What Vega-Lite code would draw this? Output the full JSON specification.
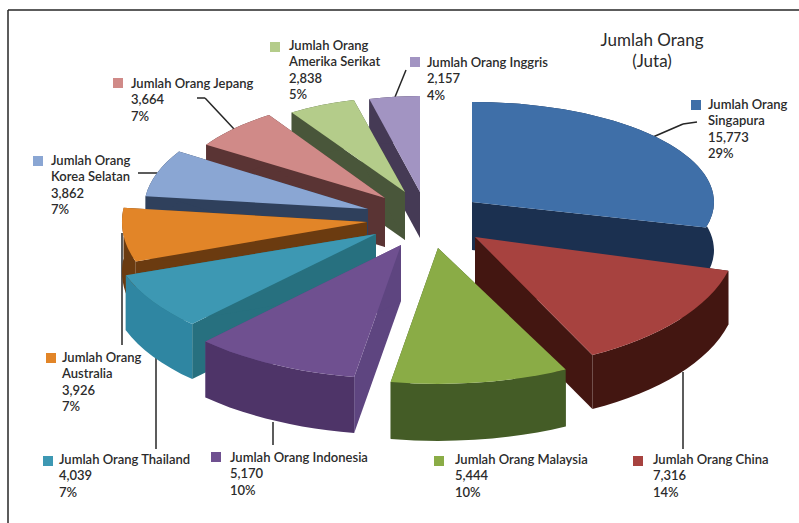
{
  "$schema": "https://vega.github.io/schema/vega-lite/v6.json",
  "width": 799,
  "height": 523,
  "padding": 0,
  "autosize": {"type": "none"},
  "background": "#ffffff",
  "view": {"stroke": null},
  "config": {"font": "Lato"},
  "data": {
    "values": [
      {"negara": "Inggris", "judul": "Jumlah Orang Inggris", "jumlah": 2157, "urut": 10, "cx": 420, "cy": 192, "rx": 205, "ry": 96, "tebal": 46, "lx": 427, "ly": 57, "kx": 415, "ky": 62},
      {"negara": "Amerika Serikat", "judul": "Jumlah Orang\nAmerika Serikat", "jumlah": 2838, "urut": 9, "cx": 405, "cy": 192, "rx": 207, "ry": 95, "tebal": 48, "lx": 289, "ly": 40, "kx": 275, "ky": 47},
      {"negara": "Jepang", "judul": "Jumlah Orang Jepang", "jumlah": 3664, "urut": 8, "cx": 385, "cy": 198, "rx": 212, "ry": 99, "tebal": 49, "lx": 131, "ly": 78, "kx": 118, "ky": 83},
      {"negara": "Korea Selatan", "judul": "Jumlah Orang\nKorea Selatan", "jumlah": 3862, "urut": 7, "cx": 368, "cy": 209, "rx": 224, "ry": 107, "tebal": 50, "lx": 51, "ly": 155, "kx": 38, "ky": 161},
      {"negara": "Singapura", "judul": "Jumlah Orang\nSingapura", "jumlah": 15773, "urut": 1, "cx": 472, "cy": 202, "rx": 242, "ry": 100, "tebal": 48, "lx": 708, "ly": 99, "kx": 696, "ky": 105},
      {"negara": "Australia", "judul": "Jumlah Orang\nAustralia", "jumlah": 3926, "urut": 6, "cx": 367, "cy": 222, "rx": 245, "ry": 120, "tebal": 50, "lx": 62, "ly": 352, "kx": 51, "ky": 358},
      {"negara": "Thailand", "judul": "Jumlah Orang Thailand", "jumlah": 4039, "urut": 5, "cx": 376, "cy": 234, "rx": 265, "ry": 125, "tebal": 55, "lx": 59, "ly": 454, "kx": 48, "ky": 461},
      {"negara": "China", "judul": "Jumlah Orang China", "jumlah": 7316, "urut": 2, "cx": 475, "cy": 237, "rx": 262, "ry": 132, "tebal": 54, "lx": 653, "ly": 454, "kx": 638, "ky": 461},
      {"negara": "Malaysia", "judul": "Jumlah Orang Malaysia", "jumlah": 5444, "urut": 3, "cx": 438, "cy": 248, "rx": 285, "ry": 136, "tebal": 57, "lx": 455, "ly": 454, "kx": 439, "ky": 461},
      {"negara": "Indonesia", "judul": "Jumlah Orang Indonesia", "jumlah": 5170, "urut": 4, "cx": 401, "cy": 245, "rx": 282, "ry": 134, "tebal": 56, "lx": 230, "ly": 452, "kx": 216, "ky": 457}
    ]
  },
  "transform": [
    {"joinaggregate": [{"op": "sum", "field": "jumlah", "as": "total"}]},
    {"stack": "jumlah", "groupby": [], "sort": [{"field": "urut", "order": "ascending"}], "as": ["a0", "a1"]},
    {"calculate": "datum.a0 / datum.total * 2 * PI", "as": "t0"},
    {"calculate": "datum.a1 / datum.total * 2 * PI", "as": "t1"},
    {"calculate": "round(datum.rx * sin(datum.t0) * 10) / 10", "as": "x0"},
    {"calculate": "round(-datum.ry * cos(datum.t0) * 10) / 10", "as": "y0"},
    {"calculate": "round(datum.rx * sin(datum.t1) * 10) / 10", "as": "x1"},
    {"calculate": "round(-datum.ry * cos(datum.t1) * 10) / 10", "as": "y1"},
    {"calculate": "'M0 0L' + datum.x0 + ' ' + datum.y0 + 'A' + datum.rx + ' ' + datum.ry + ' 0 0 1 ' + datum.x1 + ' ' + datum.y1 + 'Z'", "as": "pathAtas"},
    {"calculate": "'M' + datum.x0 + ' ' + datum.y0 + 'A' + datum.rx + ' ' + datum.ry + ' 0 0 1 ' + datum.x1 + ' ' + datum.y1 + 'L' + datum.x1 + ' ' + (datum.y1 + datum.tebal) + 'A' + datum.rx + ' ' + datum.ry + ' 0 0 0 ' + datum.x0 + ' ' + (datum.y0 + datum.tebal) + 'Z'", "as": "pathLuar"},
    {"calculate": "'M0 0L' + datum.x0 + ' ' + datum.y0 + 'L' + datum.x0 + ' ' + (datum.y0 + datum.tebal) + 'L0 ' + datum.tebal + 'Z'", "as": "pathPotong0"},
    {"calculate": "'M0 0L' + datum.x1 + ' ' + datum.y1 + 'L' + datum.x1 + ' ' + (datum.y1 + datum.tebal) + 'L0 ' + datum.tebal + 'Z'", "as": "pathPotong1"},
    {"calculate": "datum.judul + '\\n' + format(datum.jumlah, ',') + '\\n' + format(datum.jumlah / datum.total, '.0%')", "as": "label"}
  ],
  "layer": [
    {
      "data": {
        "values": [
          {"x": 8, "y": 10, "x2": 799, "y2": 10},
          {"x": 8, "y": 10, "x2": 8, "y2": 523},
          {"x": 406, "y": 70, "x2": 395, "y2": 97},
          {"x": 197, "y": 98, "x2": 205, "y2": 98},
          {"x": 205, "y": 98, "x2": 234, "y2": 129},
          {"x": 138, "y": 173, "x2": 157, "y2": 173},
          {"x": 697, "y": 122, "x2": 683, "y2": 124},
          {"x": 683, "y": 124, "x2": 646, "y2": 140},
          {"x": 683, "y": 449, "x2": 683, "y2": 372},
          {"x": 273, "y": 445, "x2": 273, "y2": 422},
          {"x": 156, "y": 449, "x2": 156, "y2": 355},
          {"x": 122, "y": 345, "x2": 122, "y2": 233}
        ]
      },
      "mark": {"type": "rule", "color": "#262626", "strokeWidth": 1.5},
      "encoding": {
        "x": {"field": "x", "type": "quantitative", "axis": null, "scale": {"domain": [0, 799], "range": [0, 799]}},
        "y": {"field": "y", "type": "quantitative", "axis": null, "scale": {"domain": [0, 523], "range": [0, 523]}},
        "x2": {"field": "x2"},
        "y2": {"field": "y2"}
      }
    },
    {
      "mark": {"type": "point", "filled": true, "opacity": 1, "strokeWidth": 0},
      "encoding": {
        "x": {"field": "cx", "type": "quantitative", "axis": null, "scale": {"domain": [0, 799], "range": [0, 799]}},
        "y": {"field": "cy", "type": "quantitative", "axis": null, "scale": {"domain": [0, 523], "range": [0, 523]}},
        "shape": {"field": "pathPotong0", "type": "nominal", "scale": null},
        "size": {"value": 4},
        "color": {"field": "negara", "type": "nominal", "legend": null, "scale": {
          "domain": ["Singapura", "China", "Malaysia", "Indonesia", "Thailand", "Australia", "Korea Selatan", "Jepang", "Amerika Serikat", "Inggris"],
          "range": ["#1b3050", "#431611", "#445c26", "#5e4580", "#27707f", "#6b3b10", "#2f405c", "#5a3434", "#49563a", "#453a55"]
        }}
      }
    },
    {
      "mark": {"type": "point", "filled": true, "opacity": 1, "strokeWidth": 0},
      "encoding": {
        "x": {"field": "cx", "type": "quantitative", "axis": null, "scale": {"domain": [0, 799], "range": [0, 799]}},
        "y": {"field": "cy", "type": "quantitative", "axis": null, "scale": {"domain": [0, 523], "range": [0, 523]}},
        "shape": {"field": "pathPotong1", "type": "nominal", "scale": null},
        "size": {"value": 4},
        "color": {"field": "negara", "type": "nominal", "legend": null, "scale": {
          "domain": ["Singapura", "China", "Malaysia", "Indonesia", "Thailand", "Australia", "Korea Selatan", "Jepang", "Amerika Serikat", "Inggris"],
          "range": ["#1b3050", "#431611", "#445c26", "#5e4580", "#27707f", "#6b3b10", "#2f405c", "#5a3434", "#49563a", "#453a55"]
        }}
      }
    },
    {
      "mark": {"type": "point", "filled": true, "opacity": 1, "strokeWidth": 0},
      "encoding": {
        "x": {"field": "cx", "type": "quantitative", "axis": null, "scale": {"domain": [0, 799], "range": [0, 799]}},
        "y": {"field": "cy", "type": "quantitative", "axis": null, "scale": {"domain": [0, 523], "range": [0, 523]}},
        "shape": {"field": "pathLuar", "type": "nominal", "scale": null},
        "size": {"value": 4},
        "color": {"field": "negara", "type": "nominal", "legend": null, "scale": {
          "domain": ["Singapura", "China", "Malaysia", "Indonesia", "Thailand", "Australia", "Korea Selatan", "Jepang", "Amerika Serikat", "Inggris"],
          "range": ["#1b3050", "#431611", "#445c26", "#4e3468", "#2f86a2", "#6b3b10", "#2f405c", "#5a3434", "#49563a", "#453a55"]
        }}
      }
    },
    {
      "mark": {"type": "point", "filled": true, "opacity": 1, "strokeWidth": 0},
      "encoding": {
        "x": {"field": "cx", "type": "quantitative", "axis": null, "scale": {"domain": [0, 799], "range": [0, 799]}},
        "y": {"field": "cy", "type": "quantitative", "axis": null, "scale": {"domain": [0, 523], "range": [0, 523]}},
        "shape": {"field": "pathAtas", "type": "nominal", "scale": null},
        "size": {"value": 4},
        "color": {"field": "negara", "type": "nominal", "legend": null, "scale": {
          "domain": ["Singapura", "China", "Malaysia", "Indonesia", "Thailand", "Australia", "Korea Selatan", "Jepang", "Amerika Serikat", "Inggris"],
          "range": ["#3f6fa8", "#a7423f", "#8aac46", "#6f5090", "#3d98b3", "#e28528", "#8aa6d3", "#d08a88", "#b4cc8a", "#a294c2"]
        }}
      }
    },
    {
      "mark": {"type": "point", "filled": true, "opacity": 1, "strokeWidth": 0, "shape": "square", "size": 100},
      "encoding": {
        "x": {"field": "kx", "type": "quantitative", "axis": null, "scale": {"domain": [0, 799], "range": [0, 799]}},
        "y": {"field": "ky", "type": "quantitative", "axis": null, "scale": {"domain": [0, 523], "range": [0, 523]}},
        "color": {"field": "negara", "type": "nominal", "legend": null, "scale": {
          "domain": ["Singapura", "China", "Malaysia", "Indonesia", "Thailand", "Australia", "Korea Selatan", "Jepang", "Amerika Serikat", "Inggris"],
          "range": ["#3f6fa8", "#a7423f", "#8aac46", "#6f5090", "#3d98b3", "#e28528", "#8aa6d3", "#d08a88", "#b4cc8a", "#a294c2"]
        }}
      }
    },
    {
      "mark": {"type": "text", "align": "left", "baseline": "top", "lineBreak": "\n", "lineHeight": 16.3, "fontSize": 13, "fontWeight": 600, "color": "#2b2b2b"},
      "encoding": {
        "x": {"field": "lx", "type": "quantitative", "axis": null, "scale": {"domain": [0, 799], "range": [0, 799]}},
        "y": {"field": "ly", "type": "quantitative", "axis": null, "scale": {"domain": [0, 523], "range": [0, 523]}},
        "text": {"field": "label", "type": "nominal"}
      }
    },
    {
      "data": {"values": [{"x": 652, "y": 33, "judul": "Jumlah Orang\n(Juta)"}]},
      "mark": {"type": "text", "align": "center", "baseline": "top", "lineBreak": "\n", "lineHeight": 21, "fontSize": 17, "color": "#2b2b2b"},
      "encoding": {
        "x": {"field": "x", "type": "quantitative", "axis": null, "scale": {"domain": [0, 799], "range": [0, 799]}},
        "y": {"field": "y", "type": "quantitative", "axis": null, "scale": {"domain": [0, 523], "range": [0, 523]}},
        "text": {"field": "judul", "type": "nominal"}
      }
    }
  ],
  "resolve": {"scale": {"color": "independent"}}
}
